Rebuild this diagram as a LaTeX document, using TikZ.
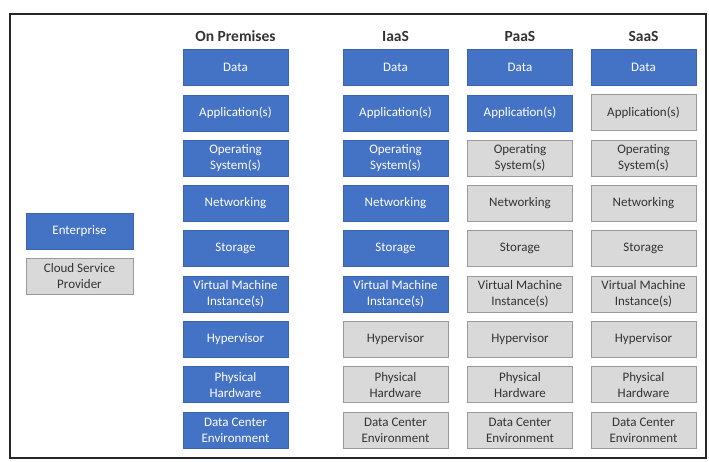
\documentclass[tikz,border=0pt]{standalone}
\usepackage{fontspec}
\setmainfont{Carlito}
\definecolor{entblue}{HTML}{4472C4}
\definecolor{entedge}{HTML}{3A64B0}
\definecolor{cspgray}{HTML}{D9D9D9}
\definecolor{cspedge}{HTML}{9A9A9A}
\begin{document}
\begin{tikzpicture}[x=1pt,y=-1pt,
  cell/.style={minimum width=105pt,minimum height=36pt,inner sep=1pt,align=center,font=\fontsize{13}{16}\selectfont},
  ent/.style={cell,fill=entblue,draw=entedge,line width=0.5pt,text=white},
  csp/.style={cell,fill=cspgray,draw=cspedge,line width=0.8pt,text=black!80},
  hdr/.style={font=\fontsize{15.5}{18}\selectfont\bfseries,text=black!80}]
\useasboundingbox (0,0) rectangle (709,462);
\draw[line width=1.8pt,draw=black!85] (10,14) rectangle (706,458);
% headers
\node[hdr] (hop) at (235.5,36) {On Premises};
\node[hdr] (hia) at (395.5,36) {IaaS};
\node[hdr] (hpa) at (520,36) {PaaS};
\node[hdr] (hsa) at (643.5,36) {SaaS};
% legend
\node[ent,minimum width=107pt] (lent) at (79.5,231) {Enterprise};
\node[csp,minimum width=107pt] (lcsp) at (79.5,276) {Cloud Service\\Provider};
% rows
\foreach \lab [count=\i from 0] in {Data,Application(s),{Operating\\System(s)},Networking,Storage,{Virtual Machine\\Instance(s)},Hypervisor,{Physical\\Hardware},{Data Center\\Environment}}{
  \pgfmathsetmacro{\yy}{67.5+45.3*\i}
  \node[ent] (op\i) at (235.5,\yy) {\lab};
  \ifnum\i<6 \node[ent] (ia\i) at (395.5,\yy) {\lab};\else \node[csp] (ia\i) at (395.5,\yy) {\lab};\fi
  \ifnum\i<2 \node[ent] (pa\i) at (520,\yy) {\lab};\else \node[csp] (pa\i) at (520,\yy) {\lab};\fi
  \ifnum\i<1 \node[ent] (sa\i) at (643.5,\yy) {\lab};\else \node[csp] (sa\i) at (643.5,\yy) {\lab};\fi
}
\end{tikzpicture}
\end{document}
